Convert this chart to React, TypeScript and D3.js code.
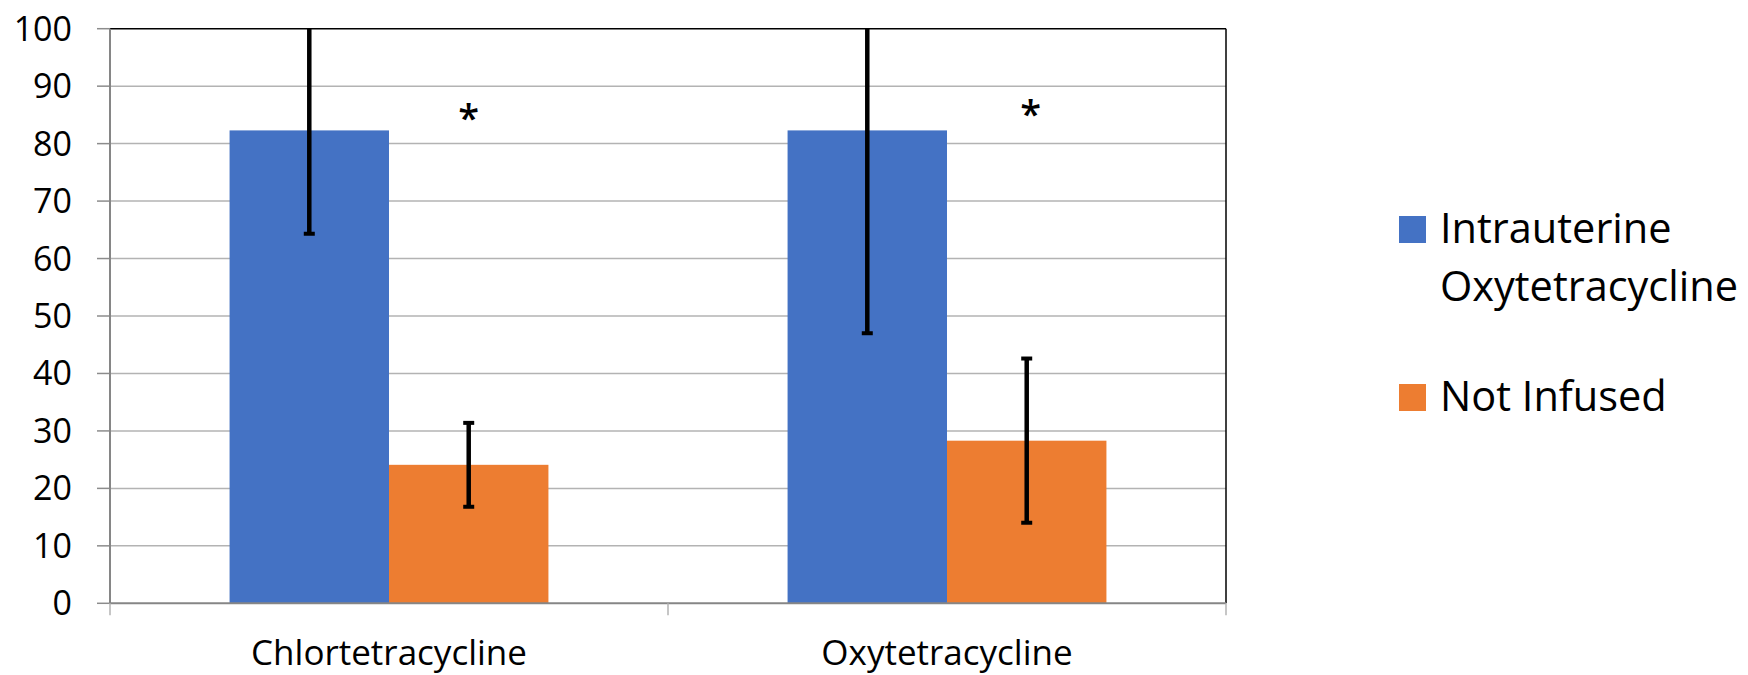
import React, { useEffect, useRef } from 'react';
import * as d3 from 'd3';

// Chart data
const categories = ['Chlortetracycline', 'Oxytetracycline'];
const seriesKeys = ['intrauterine', 'notInfused'];
const legendLabels = [['Intrauterine', 'Oxytetracycline'], ['Not Infused']];
const intrauterineValues = [82.3, 82.3];
const intrauterineErrors = [18.0, 35.3];
const notInfusedValues = [24.1, 28.3];
const notInfusedErrors = [7.3, 14.3];
// significance markers (y in data units), placed over the Not Infused bars
const asteriskValues = [85.6, 86.3];
const yTicks = [0, 10, 20, 30, 40, 50, 60, 70, 80, 90, 100];

const colors = { intrauterine: '#4472C4', notInfused: '#ED7D31' };
const font = '"Open Sans", "Noto Sans", sans-serif';

const App = () => {
  const svgRef = useRef<SVGSVGElement>(null);

  useEffect(() => {
    const svg = d3.select(svgRef.current);
    svg.selectAll('*').remove();

    const left = 110, right = 1226, top = 28.7, bottom = 603.3;

    const x0 = d3.scaleBand().domain(categories).range([left, right]).padding(0);
    const x1 = d3.scaleBand().domain(seriesKeys).range([0, x0.bandwidth()])
      .paddingInner(0).paddingOuter(0.75);
    const y = d3.scaleLinear().domain([0, 100]).range([bottom, top]);

    const rows = categories.map((c, i) => ({
      category: c,
      bars: [
        { key: 'intrauterine', value: intrauterineValues[i], err: intrauterineErrors[i] },
        { key: 'notInfused', value: notInfusedValues[i], err: notInfusedErrors[i] },
      ],
    }));

    svg.append('defs').append('clipPath').attr('id', 'plot-clip')
      .append('rect').attr('x', left).attr('y', top)
      .attr('width', right - left).attr('height', bottom - top);

    // gridlines
    svg.append('g').selectAll('line')
      .data(yTicks.filter(t => t > 0 && t < 100))
      .enter().append('line')
      .attr('x1', left).attr('x2', right)
      .attr('y1', d => y(d)).attr('y2', d => y(d))
      .attr('stroke', '#b3b3b3').attr('stroke-width', 1.5);

    // y tick marks
    svg.append('g').selectAll('line')
      .data(yTicks)
      .enter().append('line')
      .attr('x1', left - 13).attr('x2', left)
      .attr('y1', d => y(d)).attr('y2', d => y(d))
      .attr('stroke', '#8c8c8c').attr('stroke-width', 1.5);

    // bars
    const groups = svg.append('g').selectAll('g')
      .data(rows)
      .enter().append('g')
      .attr('transform', d => `translate(${x0(d.category)},0)`);

    groups.selectAll('rect')
      .data(d => d.bars)
      .enter().append('rect')
      .attr('x', d => x1(d.key)!)
      .attr('width', x1.bandwidth())
      .attr('y', d => y(d.value))
      .attr('height', d => bottom - y(d.value))
      .attr('fill', d => colors[d.key as keyof typeof colors]);

    // plot border (black top/right), grey axes on left/bottom
    svg.append('line').attr('x1', left).attr('x2', right).attr('y1', top).attr('y2', top)
      .attr('stroke', '#000').attr('stroke-width', 1.5);
    svg.append('line').attr('x1', right).attr('x2', right).attr('y1', top).attr('y2', bottom)
      .attr('stroke', '#000').attr('stroke-width', 1.5);
    svg.append('line').attr('x1', left).attr('x2', left).attr('y1', top).attr('y2', bottom)
      .attr('stroke', '#868686').attr('stroke-width', 2);
    svg.append('line').attr('x1', left).attr('x2', right).attr('y1', bottom).attr('y2', bottom)
      .attr('stroke', '#868686').attr('stroke-width', 2);

    // x tick marks at band edges
    const xEdges = [...categories.map(c => x0(c)!), right];
    svg.append('g').selectAll('line')
      .data(xEdges)
      .enter().append('line')
      .attr('x1', d => d).attr('x2', d => d)
      .attr('y1', bottom).attr('y2', bottom + 12)
      .attr('stroke', '#b3b3b3').attr('stroke-width', 1.5);

    // error bars, clipped to the plot area
    const errG = svg.append('g').attr('clip-path', 'url(#plot-clip)');
    rows.forEach(r => {
      r.bars.forEach(b => {
        const cx = x0(r.category)! + x1(b.key)! + x1.bandwidth() / 2;
        const yHi = y(b.value + b.err);
        const yLo = y(b.value - b.err);
        errG.append('line').attr('x1', cx).attr('x2', cx).attr('y1', yHi).attr('y2', yLo)
          .attr('stroke', '#000').attr('stroke-width', 4.5);
        [yHi, yLo].forEach(yy => {
          errG.append('line').attr('x1', cx - 5.5).attr('x2', cx + 5.5).attr('y1', yy).attr('y2', yy)
            .attr('stroke', '#000').attr('stroke-width', 4);
        });
      });
    });

    // asterisks
    svg.append('g').selectAll('text')
      .data(categories)
      .enter().append('text')
      .attr('x', (c, i) => x0(c)! + x1('notInfused')! + x1.bandwidth() / 2 + (i === 1 ? 4 : 0))
      .attr('y', (c, i) => y(asteriskValues[i]) + 21)
      .attr('text-anchor', 'middle')
      .attr('font-family', font).attr('font-size', 38).attr('font-weight', 600)
      .attr('fill', '#000')
      .text('*');

    // y tick labels
    svg.append('g').selectAll('text')
      .data(yTicks)
      .enter().append('text')
      .attr('x', 72)
      .attr('y', d => y(d) + 12)
      .attr('text-anchor', 'end')
      .attr('font-family', font).attr('font-size', 34)
      .attr('fill', '#000')
      .text(d => d);

    // category labels
    svg.append('g').selectAll('text')
      .data(categories)
      .enter().append('text')
      .attr('x', c => x0(c)! + x0.bandwidth() / 2)
      .attr('y', 664.5)
      .attr('text-anchor', 'middle')
      .attr('font-family', font).attr('font-size', 35)
      .attr('fill', '#000')
      .text(c => c);

    // legend
    const legendTops = [216, 384];
    const legend = svg.append('g').selectAll('g')
      .data(seriesKeys)
      .enter().append('g')
      .attr('transform', (k, i) => `translate(1399,${legendTops[i]})`);
    legend.append('rect')
      .attr('width', 27).attr('height', 27)
      .attr('fill', k => colors[k as keyof typeof colors]);
    legend.each(function (k, i) {
      const t = d3.select(this).append('text')
        .attr('font-family', font).attr('font-size', 41.5).attr('fill', '#000');
      legendLabels[i].forEach((line, j) => {
        t.append('tspan').attr('x', 41).attr('y', 27 + j * 58.4).text(line);
      });
    });
  }, []);

  return (
    <svg ref={svgRef} width={1748} height={675}
      style={{ position: 'absolute', left: 0, top: 0, background: '#fff' }} />
  );
};

export default App;
